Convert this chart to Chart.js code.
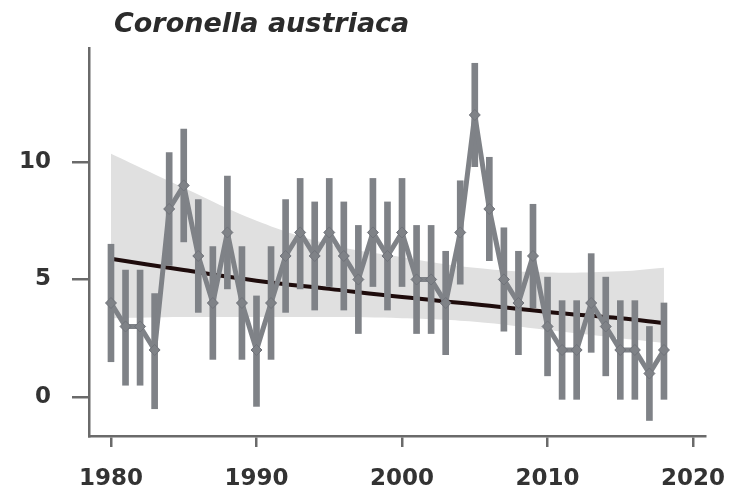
<!DOCTYPE html>
<html lang="en">
<head>
  <meta charset="UTF-8" />
  <title>Coronella austriaca</title>
  <script src="https://cdn.jsdelivr.net/npm/chart.js"></script>
  <style>
    body { margin: 0; background: #fff; }
    canvas { display: block; }
  </style>
</head>
<body>
  <canvas id="chart" width="734" height="495"></canvas>

  <script>
    // survey counts per year, with error bar ends
    const years = [1980, 1981, 1982, 1983, 1984, 1985, 1986, 1987, 1988, 1989,
                   1990, 1991, 1992, 1993, 1994, 1995, 1996, 1997, 1998, 1999,
                   2000, 2001, 2002, 2003, 2004, 2005, 2006, 2007, 2008, 2009,
                   2010, 2011, 2012, 2013, 2014, 2015, 2016, 2017, 2018];
    const counts = [4, 3, 3, 2, 8, 9, 6, 4, 7, 4,
                    2, 4, 6, 7, 6, 7, 6, 5, 7, 6,
                    7, 5, 5, 4, 7, 12, 8, 5, 4, 6,
                    3, 2, 2, 4, 3, 2, 2, 1, 2];
    const lower = [1.5, 0.5, 0.5, -0.5, 5.6, 6.6, 3.6, 1.6, 4.6, 1.6,
                   -0.4, 1.6, 3.6, 4.6, 3.7, 4.7, 3.7, 2.7, 4.7, 3.7,
                   4.7, 2.7, 2.7, 1.8, 4.8, 9.8, 5.8, 2.8, 1.8, 3.8,
                   0.9, -0.1, -0.1, 1.9, 0.9, -0.1, -0.1, -1.0, -0.1];
    const upper = [6.5, 5.4, 5.4, 4.4, 10.4, 11.4, 8.4, 6.4, 9.4, 6.4,
                   4.3, 6.4, 8.4, 9.3, 8.3, 9.3, 8.3, 7.3, 9.3, 8.3,
                   9.3, 7.3, 7.3, 6.2, 9.2, 14.2, 10.2, 7.2, 6.2, 8.2,
                   5.1, 4.1, 4.1, 6.1, 5.1, 4.1, 4.1, 3.0, 4.0];

    // fitted trend and its confidence band
    const trendYears = [1980, 1985, 1990, 1995, 2000, 2005, 2010, 2015, 2018];
    const trend = [5.88, 5.4, 4.95, 4.6, 4.25, 3.95, 3.62, 3.35, 3.15];
    const bandLow = [3.35, 3.4, 3.4, 3.4, 3.35, 3.2, 2.85, 2.5, 2.3];
    const bandHigh = [10.35, 8.9, 7.5, 6.5, 5.95, 5.5, 5.3, 5.35, 5.5];

    const xTicks = [1980, 1990, 2000, 2010, 2020];
    const yTicks = [0, 5, 10];
    const title = 'Coronella austriaca';

    const grey = '#7f8287';
    const axisCol = '#6a6a6a';
    const textCol = '#333333';

    Chart.defaults.font.family = '"DejaVu Sans", sans-serif';

    const pts = (xs, ys) => xs.map((x, i) => ({ x: x, y: ys[i] }));

    const titlePlugin = {
      id: 'titleText',
      afterDraw(chart) {
        const c = chart.ctx;
        c.save();
        c.font = 'italic bold 27px "DejaVu Sans"';
        c.fillStyle = '#2b2b2b';
        c.textBaseline = 'alphabetic';
        c.fillText(title, 114, 32);
        c.restore();
      }
    };

    new Chart(document.getElementById('chart'), {
      type: 'line',
      data: {
        datasets: [
          {
            data: pts(trendYears, bandLow),
            borderWidth: 0,
            pointRadius: 0,
            tension: 0.4,
            order: 5
          },
          {
            data: pts(trendYears, bandHigh),
            borderWidth: 0,
            pointRadius: 0,
            tension: 0.4,
            fill: '-1',
            backgroundColor: '#e0e0e0',
            order: 4
          },
          {
            data: pts(trendYears, trend),
            borderColor: '#1e0c0c',
            borderWidth: 4,
            pointRadius: 0,
            tension: 0.4,
            order: 3
          },
          {
            type: 'bar',
            data: years.map((x, i) => ({ x: x, y: [lower[i], upper[i]] })),
            backgroundColor: grey,
            borderWidth: 0,
            barThickness: 6,
            order: 2
          },
          {
            data: pts(years, counts),
            borderColor: grey,
            borderWidth: 5,
            pointStyle: 'rectRot',
            pointRadius: 5.5,
            pointBackgroundColor: grey,
            pointBorderColor: '#70737a',
            pointBorderWidth: 1,
            tension: 0,
            order: 1
          }
        ]
      },
      options: {
        responsive: false,
        animation: false,
        layout: { padding: { top: 48, right: 29, left: 0, bottom: 0 } },
        plugins: {
          legend: { display: false },
          tooltip: { enabled: false }
        },
        scales: {
          x: {
            type: 'linear',
            min: 1978.49,
            max: 2020.82,
            offset: false,
            afterBuildTicks: s => { s.ticks = xTicks.map(v => ({ value: v })); },
            afterFit: s => { s.height = 59; s.paddingLeft = 0; s.paddingRight = 0; },
            ticks: {
              color: textCol,
              font: { size: 23, weight: 'bold' },
              padding: 18,
              maxRotation: 0,
              callback: v => String(v)
            },
            grid: {
              offset: false,
              drawOnChartArea: false,
              tickLength: 11,
              color: axisCol,
              lineWidth: 2.5
            },
            border: { display: true, color: axisCol, width: 2.5 }
          },
          y: {
            min: -1.66,
            max: 14.85,
            afterBuildTicks: s => { s.ticks = yTicks.map(v => ({ value: v })); },
            afterFit: s => { s.width = 89; s.paddingTop = 0; s.paddingBottom = 0; },
            ticks: {
              color: textCol,
              font: { size: 23, weight: 'bold' },
              padding: 21,
              callback: v => String(v)
            },
            grid: {
              drawOnChartArea: false,
              tickLength: 17,
              color: axisCol,
              lineWidth: 2.5
            },
            border: { display: true, color: axisCol, width: 2.5 }
          }
        }
      },
      plugins: [titlePlugin]
    });
  </script>
</body>
</html>
